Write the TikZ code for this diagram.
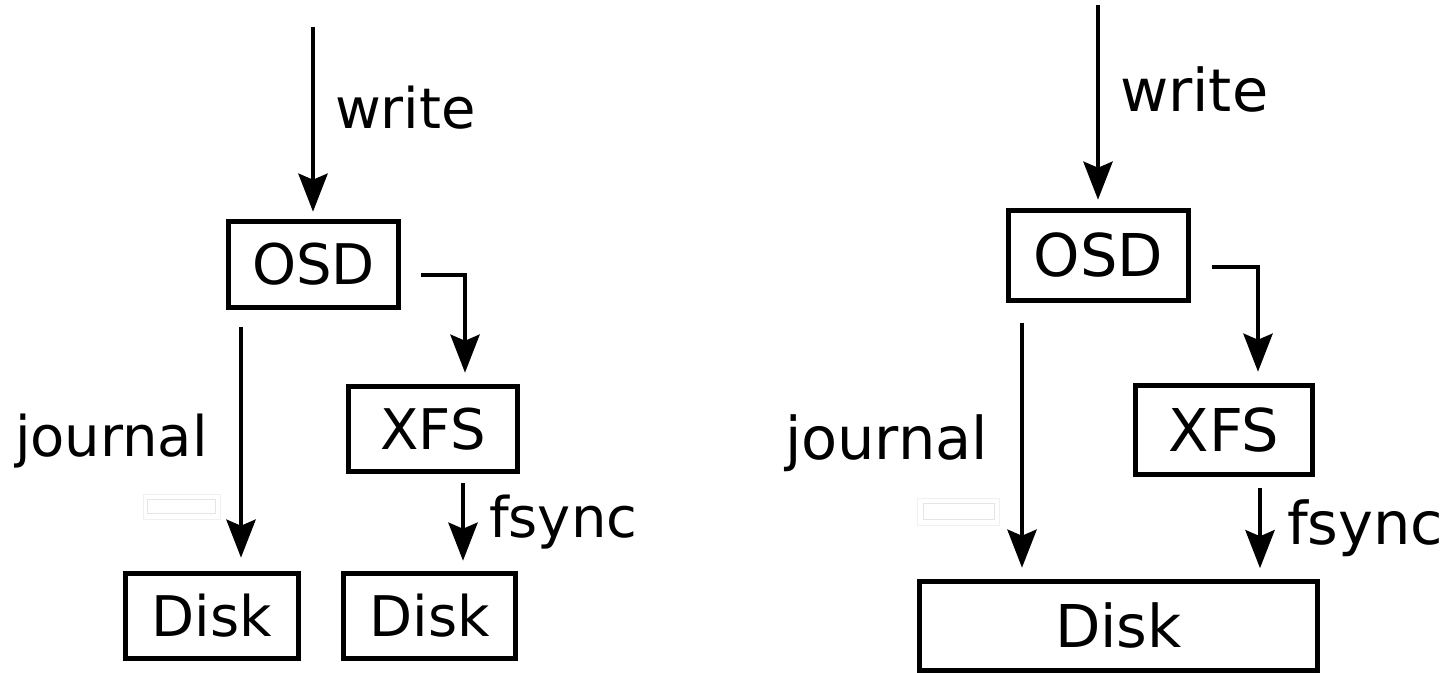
\documentclass[tikz,border=0pt]{standalone}
\usepackage{fontspec}
\setmainfont{DejaVu Sans}
\usetikzlibrary{arrows.meta,calc}
\newcommand\smallset{\fontsize{28pt}{33pt}\selectfont}
\newcommand\largeset{\fontsize{29.5pt}{35pt}\selectfont}
\begin{document}
\begin{tikzpicture}[x=0.5pt,y=-0.5pt,
  box/.style={draw=black,line width=2.75pt,inner sep=0pt,outer sep=1.375pt,fill=white},
  arr/.style={line width=2.4pt,-{Stealth[length=19pt,width=14.5pt,inset=3pt]}},
  lab/.style={anchor=base west,inner sep=0pt,outer sep=0pt},
  ghost/.style={line width=0.6pt,draw=black!6},
  ghostin/.style={line width=0.6pt,draw=black!10}]
\useasboundingbox[fill=white] (0,0) rectangle (1446,673);

% ---------- separate disks ----------
\begin{scope}[font=\smallset]
  \node[box,minimum width=85pt,minimum height=43pt] (osdL) at (313.5,264.5) {OSD};
  \node[box,minimum width=84.5pt,minimum height=42.5pt] (xfsL) at (433,429) {XFS};
  \node[box,minimum width=86.5pt,minimum height=42.5pt] (diskAL) at (212,616) {Disk};
  \node[box,minimum width=86pt,minimum height=42.5pt] (diskBL) at (429.5,616) {Disk};

  \coordinate (wL) at (313,27);
  \coordinate (jL) at (241,327);
  \coordinate (eL) at (421,275);
  \coordinate (fL) at ($(xfsL.south)+(30,9)$);

  \draw[arr,shorten >=3.5pt] (wL) -- (wL |- osdL.north);
  \draw[arr,shorten >=6.5pt] (jL) -- (jL |- diskAL.north);
  \draw[arr] (eL) -| ([xshift=16pt,yshift=5.5pt]xfsL.north);
  \draw[arr,shorten >=5pt] (fL) -- (fL |- diskBL.north);

  \node[lab] (wLlab) at (335,129) {write};
  \node[lab] (jLlab) at (15,457) {journal};
  \node[lab] (fLlab) at (489,538) {fsync};

  \draw[ghost] (143.5,494.5) rectangle (220.5,519.5);
  \draw[ghostin] (147.5,499.5) rectangle (215.5,513.5);
\end{scope}

% ---------- shared disk ----------
\begin{scope}[font=\largeset]
  \node[box,minimum width=90pt,minimum height=45pt] (osdR) at (1098.5,255.5) {OSD};
  \node[box,minimum width=88.5pt,minimum height=44.5pt] (xfsR) at (1224,430) {XFS};
  \node[box,minimum width=199pt,minimum height=44.5pt] (diskR) at (1118.5,626) {Disk};

  \coordinate (wR) at (1098,5);
  \coordinate (jR) at (1022,323);
  \coordinate (eR) at (1212,267);
  \coordinate (fR) at ($(xfsR.south)+(36,11)$);

  \draw[arr,shorten >=4pt] (wR) -- (wR |- osdR.north);
  \draw[arr,shorten >=5.5pt] (jR) -- (jR |- diskR.north);
  \draw[arr] (eR) -| ([xshift=17pt,yshift=5.5pt]xfsR.north);
  \draw[arr,shorten >=5.25pt] (fR) -- (fR |- diskR.north);

  \node[lab] (wRlab) at (1120,112) {write};
  \node[lab] (jRlab) at (785,460) {journal};
  \node[lab] (fRlab) at (1287,545) {fsync};

  \draw[ghost] (917.5,498.5) rectangle (999.5,525.5);
  \draw[ghostin] (923.5,503.5) rectangle (994.5,519.5);
\end{scope}
\end{tikzpicture}
\end{document}
